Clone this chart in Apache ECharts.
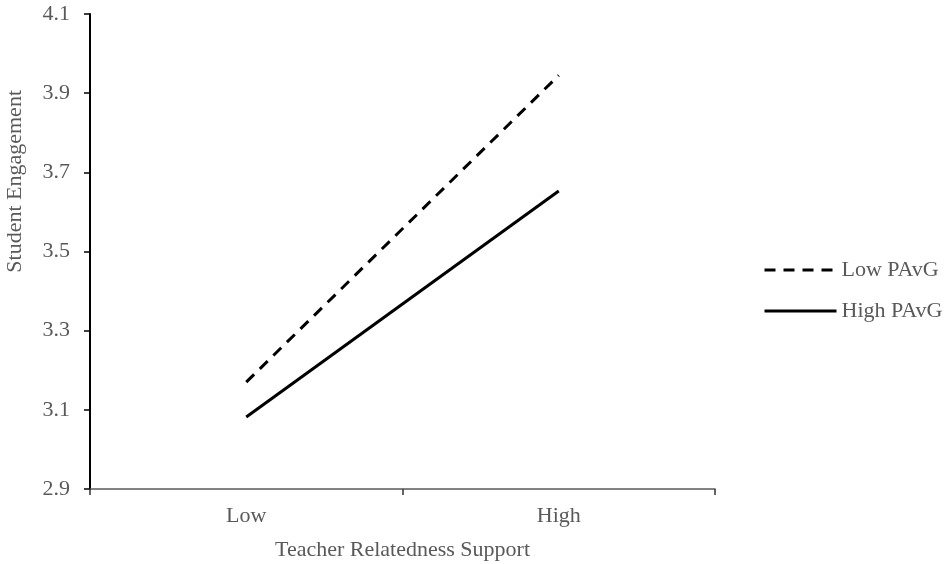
<!DOCTYPE html>
<html>
<head>
<meta charset="utf-8">
<script src="https://cdn.jsdelivr.net/npm/echarts@6/dist/echarts.min.js"></script>
<style>html,body{margin:0;padding:0;background:#fff;}#c{width:945px;height:564px;}</style>
</head>
<body>
<div id="c"></div>
<script>
const categories = ['Low', 'High'];
const lowPAvG = [3.17, 3.945];
const highPAvG = [3.082, 3.653];
const yTicks = [2.9, 3.1, 3.3, 3.5, 3.7, 3.9, 4.1];
const seriesNames = ['Low PAvG', 'High PAvG'];

const font = 'Liberation Serif';
const txt = '#595959';
const chart = echarts.init(document.getElementById('c'), null, {renderer: 'canvas'});
chart.setOption({
  animation: false,
  backgroundColor: '#fff',
  grid: {left: 90, right: 230, top: 14, bottom: 75, containLabel: false, outerBoundsMode: 'none'},
  xAxis: {
    type: 'category',
    data: categories,
    boundaryGap: true,
    name: 'Teacher Relatedness Support',
    nameLocation: 'middle',
    nameGap: 50,
    nameTextStyle: {fontFamily: font, fontSize: 22, color: txt},
    axisLine: {lineStyle: {color: '#595959', width: 1.5}},
    axisTick: {show: true, length: 6, lineStyle: {color: '#333', width: 1.5}},
    axisLabel: {fontFamily: font, fontSize: 22, color: txt, margin: 16},
    splitLine: {show: false}
  },
  yAxis: {
    type: 'value',
    min: yTicks[0],
    max: yTicks[yTicks.length - 1],
    axisLine: {show: true, lineStyle: {color: '#000', width: 2}},
    axisTick: {show: true, length: 6, customValues: yTicks, lineStyle: {color: '#000', width: 1.5}},
    axisLabel: {fontFamily: font, fontSize: 22, color: txt, margin: 20, customValues: yTicks,
      formatter: v => v.toFixed(1)},
    splitLine: {show: false}
  },
  legend: {
    orient: 'vertical',
    left: 758,
    top: 254,
    itemWidth: 72,
    itemHeight: 18,
    itemGap: 19,
    itemStyle: {opacity: 0},
    lineStyle: {width: 3},
    textStyle: {fontFamily: font, fontSize: 22, color: txt, padding: [0, 0, 0, 0]},
    data: seriesNames
  },
  graphic: [{
    type: 'text',
    left: 4,
    top: 90,
    rotation: Math.PI / 2,
    style: {text: 'Student Engagement', font: '22px "Liberation Serif"', fill: txt},
    originX: 0, originY: 0
  }],
  series: [
    {name: seriesNames[0], type: 'line', data: lowPAvG, symbol: 'none', showSymbol: false,
      lineStyle: {color: '#000', width: 3, type: [11, 8]}, itemStyle: {color: '#000'}},
    {name: seriesNames[1], type: 'line', data: highPAvG, symbol: 'none', showSymbol: false,
      lineStyle: {color: '#000', width: 3, type: 'solid'}, itemStyle: {color: '#000'}}
  ]
});
</script>
</body>
</html>
